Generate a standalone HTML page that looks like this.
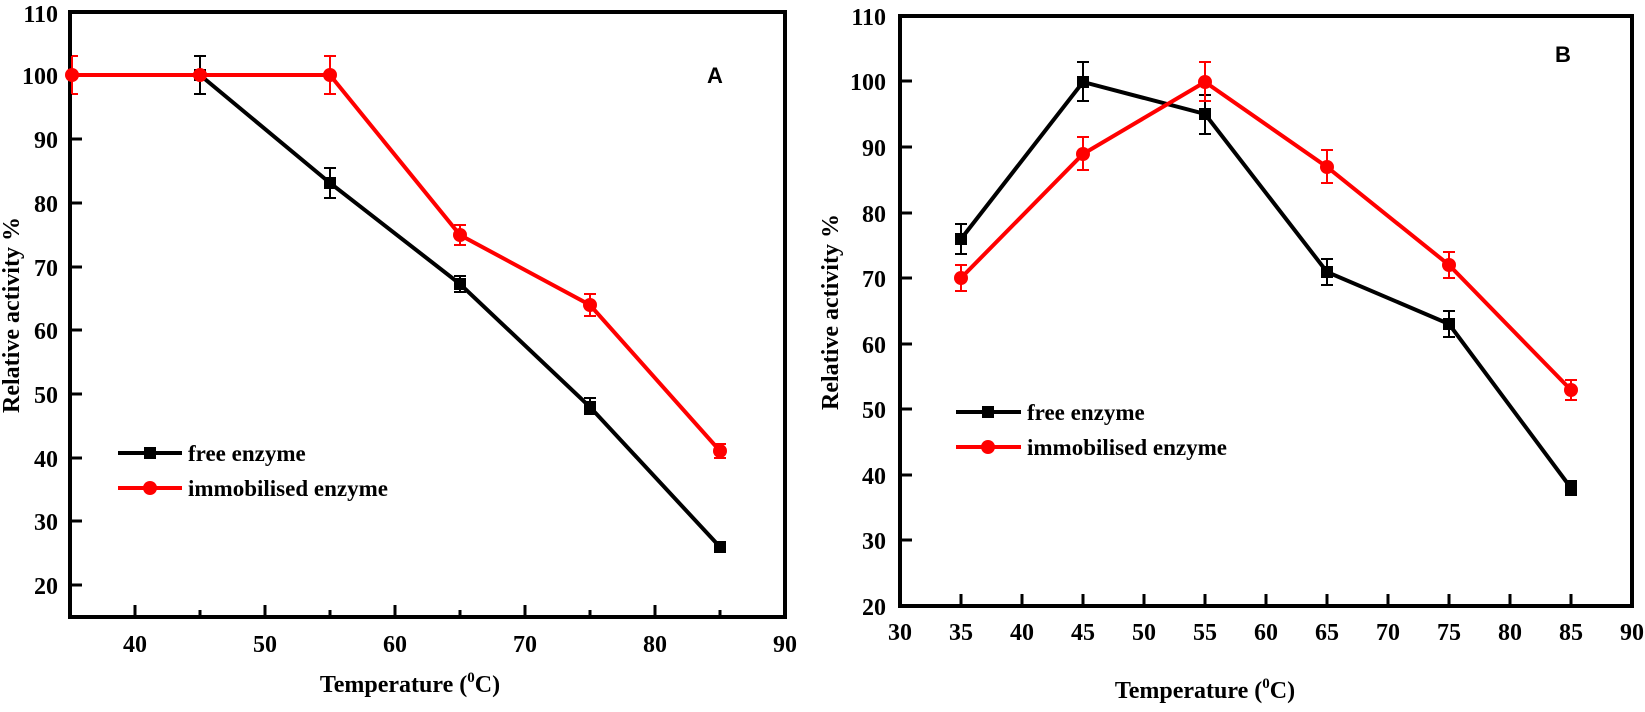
<!DOCTYPE html>
<html><head><meta charset="utf-8"><style>
body{margin:0;background:#fff}
text{font-family:"Liberation Serif",serif;font-weight:bold}
</style></head><body>
<svg width="1645" height="707" xmlns="http://www.w3.org/2000/svg">
<rect x="70" y="12" width="715" height="605" stroke="#000" stroke-width="4" fill="none"/>
<g stroke="#000" stroke-width="3">
<line x1="135" y1="617" x2="135" y2="605"/><line x1="200" y1="617" x2="200" y2="610"/>
<line x1="265" y1="617" x2="265" y2="605"/><line x1="330" y1="617" x2="330" y2="610"/>
<line x1="395" y1="617" x2="395" y2="605"/><line x1="460" y1="617" x2="460" y2="610"/>
<line x1="525" y1="617" x2="525" y2="605"/><line x1="590" y1="617" x2="590" y2="610"/>
<line x1="655" y1="617" x2="655" y2="605"/><line x1="720" y1="617" x2="720" y2="610"/>
<line x1="70" y1="585" x2="82" y2="585"/><line x1="70" y1="521" x2="82" y2="521"/>
<line x1="70" y1="458" x2="82" y2="458"/><line x1="70" y1="394" x2="82" y2="394"/>
<line x1="70" y1="330" x2="82" y2="330"/><line x1="70" y1="267" x2="82" y2="267"/>
<line x1="70" y1="203" x2="82" y2="203"/><line x1="70" y1="139" x2="82" y2="139"/>
<line x1="70" y1="75" x2="82" y2="75"/>
</g>
<g font-size="24" text-anchor="end">
<text x="58" y="22">110</text><text x="58" y="84">100</text><text x="58" y="148">90</text>
<text x="58" y="212">80</text><text x="58" y="276">70</text><text x="58" y="339">60</text>
<text x="58" y="403">50</text><text x="58" y="467">40</text><text x="58" y="530">30</text>
<text x="58" y="594">20</text>
</g>
<g font-size="24" text-anchor="middle">
<text x="135" y="652">40</text><text x="265" y="652">50</text><text x="395" y="652">60</text>
<text x="525" y="652">70</text><text x="655" y="652">80</text><text x="785" y="652">90</text>
</g>
<text x="410" y="692" font-size="24" text-anchor="middle">Temperature (<tspan font-size="15" dy="-10">0</tspan><tspan dy="10">C)</tspan></text>
<text transform="translate(19,315) rotate(-90)" font-size="24" text-anchor="middle">Relative activity %</text>
<text x="707" y="83" font-size="22" style="font-family:'Liberation Sans',sans-serif">A</text>
<g stroke="#000" stroke-width="2">
<line x1="200" y1="56" x2="200" y2="94"/><line x1="194" y1="56" x2="206" y2="56"/><line x1="194" y1="94" x2="206" y2="94"/>
<line x1="330" y1="168" x2="330" y2="198"/><line x1="324" y1="168" x2="336" y2="168"/><line x1="324" y1="198" x2="336" y2="198"/>
<line x1="460" y1="276" x2="460" y2="292"/><line x1="454" y1="276" x2="466" y2="276"/><line x1="454" y1="292" x2="466" y2="292"/>
<line x1="590" y1="398" x2="590" y2="414"/><line x1="584" y1="398" x2="596" y2="398"/><line x1="584" y1="414" x2="596" y2="414"/>
</g>
<polyline points="200,75 330,183 460,284 590,407 720,547" stroke="#000" stroke-width="4" fill="none"/>
<g fill="#000"><rect x="194" y="69" width="12" height="12"/><rect x="324" y="177" width="12" height="12"/><rect x="454" y="278" width="12" height="12"/><rect x="584" y="401" width="12" height="12"/><rect x="714" y="541" width="12" height="12"/></g>
<g stroke="#f00" stroke-width="2">
<line x1="72" y1="56" x2="72" y2="94"/><line x1="72" y1="56" x2="78" y2="56"/><line x1="72" y1="94" x2="78" y2="94"/>
<line x1="330" y1="56" x2="330" y2="94"/><line x1="324" y1="56" x2="336" y2="56"/><line x1="324" y1="94" x2="336" y2="94"/>
<line x1="460" y1="225" x2="460" y2="245"/><line x1="454" y1="225" x2="466" y2="225"/><line x1="454" y1="245" x2="466" y2="245"/>
<line x1="590" y1="294" x2="590" y2="316"/><line x1="584" y1="294" x2="596" y2="294"/><line x1="584" y1="316" x2="596" y2="316"/>
<line x1="720" y1="444" x2="720" y2="458"/><line x1="714" y1="444" x2="726" y2="444"/><line x1="714" y1="458" x2="726" y2="458"/>
</g>
<polyline points="72,75 200,75 330,75 460,235 590,305 720,451" stroke="#f00" stroke-width="4" fill="none"/>
<g fill="#f00"><circle cx="72" cy="75" r="7"/><circle cx="200" cy="75" r="7"/><circle cx="330" cy="75" r="7"/><circle cx="460" cy="235" r="7"/><circle cx="590" cy="305" r="7"/><circle cx="720" cy="451" r="7"/></g>
<line x1="118" y1="453" x2="182" y2="453" stroke="#000" stroke-width="4"/><rect x="144" y="447" width="12" height="12"/>
<line x1="118" y1="488" x2="182" y2="488" stroke="#f00" stroke-width="4"/><circle cx="150" cy="488" r="7" fill="#f00"/>
<text x="188" y="461" font-size="23">free enzyme</text>
<text x="188" y="496" font-size="23">immobilised enzyme</text>

<rect x="900" y="16" width="732" height="590" stroke="#000" stroke-width="4" fill="none"/>
<g stroke="#000" stroke-width="3">
<line x1="961" y1="606" x2="961" y2="594"/><line x1="1022" y1="606" x2="1022" y2="594"/>
<line x1="1083" y1="606" x2="1083" y2="594"/><line x1="1144" y1="606" x2="1144" y2="594"/>
<line x1="1205" y1="606" x2="1205" y2="594"/><line x1="1266" y1="606" x2="1266" y2="594"/>
<line x1="1327" y1="606" x2="1327" y2="594"/><line x1="1388" y1="606" x2="1388" y2="594"/>
<line x1="1449" y1="606" x2="1449" y2="594"/><line x1="1510" y1="606" x2="1510" y2="594"/>
<line x1="1571" y1="606" x2="1571" y2="594"/>
<line x1="900" y1="540" x2="912" y2="540"/><line x1="900" y1="475" x2="912" y2="475"/>
<line x1="900" y1="409" x2="912" y2="409"/><line x1="900" y1="344" x2="912" y2="344"/>
<line x1="900" y1="278" x2="912" y2="278"/><line x1="900" y1="213" x2="912" y2="213"/>
<line x1="900" y1="147" x2="912" y2="147"/><line x1="900" y1="81" x2="912" y2="81"/>
</g>
<g font-size="24" text-anchor="end">
<text x="886" y="25">110</text><text x="886" y="90">100</text><text x="886" y="156">90</text>
<text x="886" y="222">80</text><text x="886" y="287">70</text><text x="886" y="353">60</text>
<text x="886" y="418">50</text><text x="886" y="484">40</text><text x="886" y="549">30</text>
<text x="886" y="615">20</text>
</g>
<g font-size="24" text-anchor="middle">
<text x="900" y="640">30</text><text x="961" y="640">35</text><text x="1022" y="640">40</text>
<text x="1083" y="640">45</text><text x="1144" y="640">50</text><text x="1205" y="640">55</text>
<text x="1266" y="640">60</text><text x="1327" y="640">65</text><text x="1388" y="640">70</text>
<text x="1449" y="640">75</text><text x="1510" y="640">80</text><text x="1571" y="640">85</text>
<text x="1632" y="640">90</text>
</g>
<text x="1205" y="698" font-size="24" text-anchor="middle">Temperature (<tspan font-size="15" dy="-10">0</tspan><tspan dy="10">C)</tspan></text>
<text transform="translate(838,312) rotate(-90)" font-size="24" text-anchor="middle">Relative activity %</text>
<text x="1555" y="62" font-size="22" style="font-family:'Liberation Sans',sans-serif">B</text>
<g stroke="#000" stroke-width="2">
<line x1="961" y1="224" x2="961" y2="254"/><line x1="955" y1="224" x2="967" y2="224"/><line x1="955" y1="254" x2="967" y2="254"/>
<line x1="1083" y1="62" x2="1083" y2="101"/><line x1="1077" y1="62" x2="1089" y2="62"/><line x1="1077" y1="101" x2="1089" y2="101"/>
<line x1="1205" y1="95" x2="1205" y2="134"/><line x1="1199" y1="95" x2="1211" y2="95"/><line x1="1199" y1="134" x2="1211" y2="134"/>
<line x1="1327" y1="259" x2="1327" y2="285"/><line x1="1321" y1="259" x2="1333" y2="259"/><line x1="1321" y1="285" x2="1333" y2="285"/>
<line x1="1449" y1="311" x2="1449" y2="337"/><line x1="1443" y1="311" x2="1455" y2="311"/><line x1="1443" y1="337" x2="1455" y2="337"/>
<line x1="1571" y1="481" x2="1571" y2="495"/><line x1="1565" y1="481" x2="1577" y2="481"/><line x1="1565" y1="495" x2="1577" y2="495"/>
</g>
<polyline points="961,239 1083,82 1205,114 1327,272 1449,324 1571,488" stroke="#000" stroke-width="4" fill="none"/>
<g fill="#000"><rect x="955" y="233" width="12" height="12"/><rect x="1077" y="76" width="12" height="12"/><rect x="1199" y="108" width="12" height="12"/><rect x="1321" y="266" width="12" height="12"/><rect x="1443" y="318" width="12" height="12"/><rect x="1565" y="482" width="12" height="12"/></g>
<g stroke="#f00" stroke-width="2">
<line x1="961" y1="265" x2="961" y2="291"/><line x1="955" y1="265" x2="967" y2="265"/><line x1="955" y1="291" x2="967" y2="291"/>
<line x1="1083" y1="137" x2="1083" y2="170"/><line x1="1077" y1="137" x2="1089" y2="137"/><line x1="1077" y1="170" x2="1089" y2="170"/>
<line x1="1205" y1="62" x2="1205" y2="101"/><line x1="1199" y1="62" x2="1211" y2="62"/><line x1="1199" y1="101" x2="1211" y2="101"/>
<line x1="1327" y1="150" x2="1327" y2="183"/><line x1="1321" y1="150" x2="1333" y2="150"/><line x1="1321" y1="183" x2="1333" y2="183"/>
<line x1="1449" y1="252" x2="1449" y2="278"/><line x1="1443" y1="252" x2="1455" y2="252"/><line x1="1443" y1="278" x2="1455" y2="278"/>
<line x1="1571" y1="380" x2="1571" y2="400"/><line x1="1565" y1="380" x2="1577" y2="380"/><line x1="1565" y1="400" x2="1577" y2="400"/>
</g>
<polyline points="961,278 1083,154 1205,82 1327,167 1449,265 1571,390" stroke="#f00" stroke-width="4" fill="none"/>
<g fill="#f00"><circle cx="961" cy="278" r="7"/><circle cx="1083" cy="154" r="7"/><circle cx="1205" cy="82" r="7"/><circle cx="1327" cy="167" r="7"/><circle cx="1449" cy="265" r="7"/><circle cx="1571" cy="390" r="7"/></g>
<line x1="956" y1="412" x2="1021" y2="412" stroke="#000" stroke-width="4"/><rect x="982" y="406" width="12" height="12"/>
<line x1="956" y1="447" x2="1021" y2="447" stroke="#f00" stroke-width="4"/><circle cx="988" cy="447" r="7" fill="#f00"/>
<text x="1027" y="420" font-size="23">free enzyme</text>
<text x="1027" y="455" font-size="23">immobilised enzyme</text>
</svg>
</body></html>
